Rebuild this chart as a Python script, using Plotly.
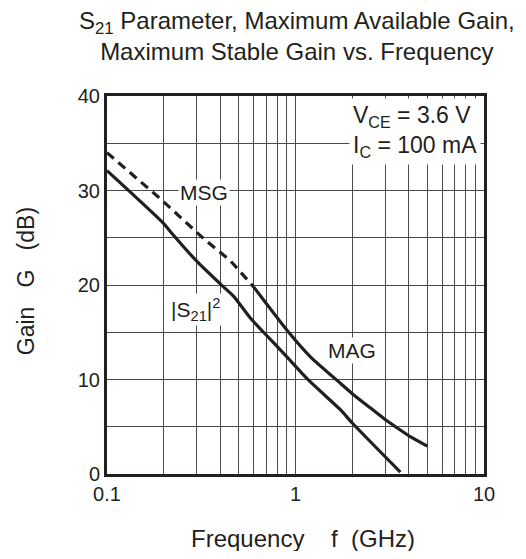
import plotly.graph_objects as go

# values (frequency in GHz, gain in dB)
msg_f = [0.1, 0.19, 0.33, 0.45, 0.6]
msg_db = [34.0, 29.2, 24.8, 22.6, 19.8]

mag_f = [0.6, 0.92, 1.2, 1.73, 2.0, 2.49, 2.93, 3.45, 4.06, 5.0]
mag_db = [19.8, 15.0, 12.4, 9.6, 8.5, 7.0, 5.9, 4.9, 3.95, 2.95]

s21_f = [0.1, 0.2, 0.22, 0.3, 0.4, 0.47, 0.576, 0.677, 0.9, 1.17, 1.73, 2.0, 3.6]
s21_db = [32.1, 26.5, 25.5, 22.5, 20.1, 18.8, 16.5, 15.0, 12.4, 9.95, 6.8, 5.4, 0.2]

x_grid = [0.1, 0.2, 0.3, 0.4, 0.5, 0.6, 0.7, 0.8, 0.9,
          1, 2, 3, 4, 5, 6, 7, 8, 9, 10]
x_labels = {0.1: '0.1', 1: '1', 10: '10'}
y_grid = [0, 5, 10, 15, 20, 25, 30, 35, 40]
y_labels = {0: '0', 10: '10', 20: '20', 30: '30', 40: '40'}

FONT = 'Liberation Sans, Arial, sans-serif'
INK = '#231f20'
NB = '\u00a0'

fig = go.Figure()
fig.add_trace(go.Scatter(x=msg_f, y=msg_db, mode='lines',
                         line=dict(color=INK, width=3.2, dash='9px,6px'),
                         showlegend=False))
fig.add_trace(go.Scatter(x=mag_f, y=mag_db, mode='lines',
                         line=dict(color=INK, width=3.2, shape='spline', smoothing=0.6),
                         showlegend=False))
fig.add_trace(go.Scatter(x=s21_f, y=s21_db, mode='lines',
                         line=dict(color=INK, width=3.2, shape='spline', smoothing=0.6),
                         showlegend=False))

lab = dict(font=dict(family=FONT, size=21, color=INK), bgcolor='white',
           showarrow=False, borderpad=1)
fig.add_annotation(x=-0.485, y=29.8, xref='x', yref='y', text='MSG', **lab)
fig.add_annotation(x=-0.533, y=17.4, xref='x', yref='y',
                   text='|S<sub>21</sub>|<sup>2</sup>', **lab)
fig.add_annotation(x=0.301, y=13.1, xref='x', yref='y', text='MAG', **lab)
fig.add_annotation(x=0.984, y=40, xref='x', yref='y', xanchor='right', yanchor='top',
                   align='left', yshift=-2,
                   text='V<sub>CE</sub> = 3.6 V<br>I<sub>C</sub> = 100 mA',
                   font=dict(family=FONT, size=23, color=INK), bgcolor='white',
                   showarrow=False, borderpad=3)

# two-line title
fig.add_annotation(x=0.504, y=1.159, xref='paper', yref='paper', yanchor='middle',
                   text='S<sub>21</sub> Parameter, Maximum Available Gain,<br>'
                        'Maximum Stable Gain vs. Frequency',
                   font=dict(family=FONT, size=24, color=INK), showarrow=False)

# axis titles
fig.add_annotation(x=0.52, y=0, xref='paper', yref='paper', yanchor='middle', yshift=-64,
                   text='Frequency' + NB * 4 + 'f' + NB * 2 + '(GHz)',
                   font=dict(family=FONT, size=24, color=INK), showarrow=False)
fig.add_annotation(x=0, y=0.51, xref='paper', yref='paper', xanchor='center', xshift=-81,
                   textangle=-90,
                   text='Gain' + NB * 3 + 'G' + NB * 3 + '(dB)',
                   font=dict(family=FONT, size=23, color=INK), showarrow=False)

fig.update_xaxes(type='log', range=[-1, 1],
                 tickvals=x_grid, ticktext=[x_labels.get(v, '') for v in x_grid],
                 showgrid=True, gridcolor='#4a4a4a', gridwidth=1,
                 showline=True, linecolor=INK, linewidth=3, mirror=True,
                 ticks='', zeroline=False, automargin=False,
                 tickfont=dict(family=FONT, size=20, color=INK))
fig.update_yaxes(range=[0, 40],
                 tickvals=y_grid, ticktext=[y_labels.get(v, '') for v in y_grid],
                 showgrid=True, gridcolor='#4a4a4a', gridwidth=1,
                 showline=True, linecolor=INK, linewidth=3, mirror=True,
                 ticks='', zeroline=False, automargin=False,
                 tickfont=dict(family=FONT, size=20, color=INK))

# page body adds 8px, so the figure is sized to fit the 526x559 window
fig.update_layout(width=510, height=543,
                  margin=dict(l=99, r=34, t=88, b=77),
                  plot_bgcolor='white', paper_bgcolor='white',
                  font=dict(family=FONT, color=INK))

fig.write_html('out.html')
